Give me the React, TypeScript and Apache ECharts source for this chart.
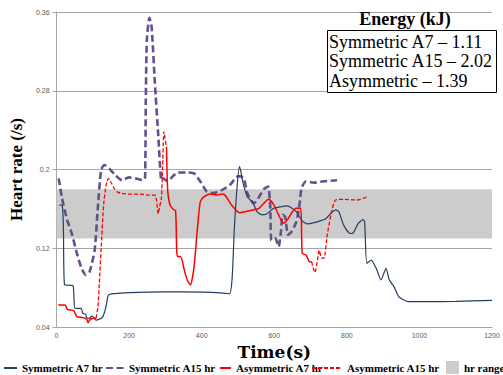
import React, { useEffect, useRef } from 'react';
import * as echarts from 'echarts';

const seriesNames = ['Symmetric A7 hr', 'Symmetric A15 hr', 'Asymmetric A7 hr', 'Asymmetric A15 hr', 'hr range'];
const xTicks = [0, 200, 400, 600, 800, 1000, 1200];
const yTicks = [0.04, 0.12, 0.2, 0.28, 0.36];
const hrRange = [0.13, 0.18];
const energyTitle = 'Energy (kJ)';
const energyLabels = ['Symmetric A7 – 1.11', 'Symmetric A15 – 2.02', 'Asymmetric – 1.39'];

const symA7 = [
  [8, 0.164], [16, 0.163], [19, 0.14], [22, 0.083], [45, 0.082], [48, 0.07], [51, 0.059], [68, 0.059],
  [72, 0.054], [80, 0.053], [84, 0.049], [92, 0.049], [96, 0.051], [102, 0.05], [109, 0.047], [118, 0.048],
  [127, 0.05], [136, 0.06], [143, 0.0725], [159, 0.074], [200, 0.075], [300, 0.0757], [400, 0.0755],
  [460, 0.0745], [477, 0.0737], [484, 0.09], [490, 0.14], [497, 0.18], [504, 0.203], [508, 0.198],
  [512, 0.19], [517, 0.182], [526, 0.172], [540, 0.167], [553, 0.157], [567, 0.154], [580, 0.155],
  [598, 0.1606], [616, 0.162], [634, 0.163], [648, 0.161], [661, 0.157], [679, 0.147], [692, 0.1447],
  [710, 0.146], [728, 0.148], [742, 0.15], [755, 0.155], [769, 0.159], [778, 0.157], [791, 0.1437],
  [809, 0.135], [818, 0.1357], [831, 0.145], [845, 0.149], [849, 0.147], [855, 0.1047], [867, 0.108],
  [881, 0.0996], [894, 0.0878], [908, 0.0996], [917, 0.0878], [930, 0.081], [943, 0.0708], [957, 0.0674],
  [970, 0.0657], [1000, 0.0657], [1100, 0.066], [1200, 0.067],
];

const symA15 = [
  [6, 0.191], [15, 0.171], [29, 0.149], [42, 0.135], [56, 0.115], [69, 0.0996], [81, 0.0928], [91, 0.096],
  [105, 0.118], [114, 0.162], [123, 0.1995], [132, 0.2046], [145, 0.201], [163, 0.194], [181, 0.189],
  [199, 0.192], [217, 0.191], [239, 0.189], [244, 0.192], [246, 0.271], [249, 0.332], [256, 0.354],
  [262, 0.345], [271, 0.288], [280, 0.237], [289, 0.189], [293, 0.191], [307, 0.188], [320, 0.193],
  [334, 0.197], [360, 0.197], [379, 0.196], [396, 0.188], [414, 0.1775], [432, 0.176], [455, 0.179],
  [477, 0.184], [500, 0.193], [508, 0.193], [517, 0.19], [526, 0.176], [544, 0.1655], [558, 0.172],
  [571, 0.18], [583, 0.1826], [589, 0.162], [592, 0.128], [603, 0.13], [612, 0.1216], [619, 0.139],
  [623, 0.154], [630, 0.152], [638, 0.1335], [648, 0.137], [661, 0.147], [670, 0.1655], [675, 0.181],
  [688, 0.188], [710, 0.1867], [737, 0.188], [773, 0.189],
];

const asymA7 = [
  [5, 0.0624], [24, 0.0624], [30, 0.058], [47, 0.0566], [56, 0.0505], [74, 0.0495], [83, 0.0478],
  [87, 0.0444], [91, 0.047], [100, 0.0488], [109, 0.049], [200, null],
  [303, 0.222], [305, 0.19], [307, 0.176], [312, 0.165], [320, 0.16], [328, 0.158], [331, 0.12],
  [333, 0.1115], [342, 0.1115], [352, 0.098], [360, 0.0878], [369, 0.0827], [379, 0.101], [387, 0.135],
  [396, 0.167], [405, 0.172], [423, 0.175], [441, 0.174], [459, 0.175], [468, 0.172], [482, 0.164],
  [504, 0.156], [531, 0.158], [558, 0.1606], [571, 0.1655], [584, 0.1697], [598, 0.1645], [612, 0.154],
  [625, 0.1455], [636, 0.149], [650, 0.157], [660, 0.1606], [673, 0.1606], [677, 0.115], [688, 0.113],
  [697, 0.1064], [703, 0.1064],
];

const asymA15 = [
  [109, 0.049], [114, 0.06], [118, 0.085], [123, 0.12], [130, 0.165], [137, 0.185], [143, 0.191],
  [150, 0.187], [160, 0.18], [168, 0.177], [177, 0.176], [200, 0.175], [230, 0.175], [255, 0.174],
  [271, 0.174], [276, 0.168], [280, 0.155], [284, 0.162], [289, 0.171], [292, 0.2], [296, 0.2385],
  [299, 0.232], [303, 0.222], [500, null],
  [703, 0.1064], [707, 0.1], [712, 0.0953], [719, 0.108], [724, 0.118], [730, 0.11], [737, 0.11],
  [746, 0.1335], [759, 0.159], [769, 0.169], [791, 0.1697], [827, 0.169], [854, 0.172],
];

const serif = 'Liberation Serif';
const legendText = { fontFamily: serif, fontWeight: 'bold', fontSize: 11, lineHeight: 12, color: '#000' };

export default function App() {
  const ref = useRef<HTMLDivElement>(null);
  useEffect(() => {
    const chart = echarts.init(ref.current!, null, { renderer: 'svg' });
    const yInterval = Math.round((yTicks[1] - yTicks[0]) * 1000) / 1000;
    const xInterval = xTicks[1] - xTicks[0];
    const mkLegend = (name: any, left: number, itemWidth: number, itemHeight: number, top: number, hideSymbol: boolean) => ({
      data: [name],
      left,
      top,
      padding: 0,
      itemWidth,
      itemHeight,
      selectedMode: false,
      width: 300,
      textStyle: legendText,
      ...(hideSymbol ? { itemStyle: { opacity: 0 } } : {}),
    });
    chart.setOption({
      animation: false,
      backgroundColor: '#fff',
      grid: { left: 46, right: 11, top: 12, bottom: 48 },
      legend: [
        mkLegend(seriesNames[0], 3, 13, 10, 362, true),
        mkLegend(seriesNames[1], 105, 18, 10, 362, true),
        mkLegend(seriesNames[2], 219, 11, 10, 362, true),
        mkLegend(seriesNames[3], 311, 30, 10, 362, true),
        mkLegend({ name: seriesNames[4], icon: 'rect', itemStyle: { color: '#cccccc' } }, 446, 13, 13, 361, false),
      ],
      xAxis: {
        type: 'value',
        min: xTicks[0],
        max: xTicks[xTicks.length - 1],
        interval: xInterval,
        name: 'Time(s)',
        nameLocation: 'middle',
        nameGap: 12,
        nameTextStyle: { fontFamily: 'DejaVu Serif', fontWeight: 'bold', fontSize: 17, lineHeight: 17, color: '#000' },
        axisLine: { show: true, lineStyle: { color: '#a6a6a6', width: 1 } },
        axisTick: { show: false },
        splitLine: { show: false },
        axisLabel: { fontSize: 7, color: '#595959', margin: 5, fontFamily: 'Liberation Sans', formatter: (v: number) => String(v) },
      },
      yAxis: {
        type: 'value',
        min: yTicks[0],
        max: yTicks[yTicks.length - 1],
        interval: yInterval,
        name: 'Heart rate (/s)',
        nameLocation: 'middle',
        nameGap: 29,
        nameRotate: 90,
        nameTextStyle: { fontFamily: serif, fontWeight: 'bold', fontSize: 17, color: '#000' },
        axisLine: { show: true, lineStyle: { color: '#a6a6a6', width: 1 } },
        axisTick: { show: true, length: 4, lineStyle: { color: '#a6a6a6' } },
        splitLine: { show: true, lineStyle: { color: '#a6a6a6', width: 1 } },
        axisLabel: { fontSize: 7, color: '#595959', margin: 7, fontFamily: 'Liberation Sans' },
      },
      series: [
        {
          name: seriesNames[4],
          type: 'line',
          z: 1,
          silent: true,
          symbol: 'none',
          data: [[xTicks[0], hrRange[0]], [xTicks[xTicks.length - 1], hrRange[0]]],
          itemStyle: { color: '#cccccc' },
          lineStyle: { width: 0, color: '#cccccc' },
          markArea: {
            silent: true,
            itemStyle: { color: '#cccccc' },
            label: { show: false },
            data: [[{ yAxis: hrRange[0] }, { yAxis: hrRange[1] }]],
          },
        },
        {
          name: seriesNames[0], type: 'line', symbol: 'none', smooth: 0.2, z: 3, data: symA7,
          itemStyle: { color: '#243f60' }, lineStyle: { color: '#243f60', width: 1.2 },
        },
        {
          name: seriesNames[1], type: 'line', symbol: 'none', smooth: 0.2, z: 2, data: symA15,
          itemStyle: { color: '#64508c' }, lineStyle: { color: '#64508c', width: 2.6, type: [7, 3.5] },
        },
        {
          name: seriesNames[2], type: 'line', symbol: 'none', smooth: 0.2, z: 4, data: asymA7,
          itemStyle: { color: '#ff0000' }, lineStyle: { color: '#ff0000', width: 1.5 },
        },
        {
          name: seriesNames[3], type: 'line', symbol: 'none', smooth: 0.2, z: 4, data: asymA15,
          itemStyle: { color: '#ff0000' }, lineStyle: { color: '#ff0000', width: 1.3, type: [4, 2] },
        },
      ],
      graphic: [
        {
          type: 'group',
          z: 100,
          children: [
            {
              type: 'text', x: 405, y: 19, z: 100,
              style: { text: energyTitle, fontFamily: serif, fontWeight: 'bold', fontSize: 18, fill: '#000', textAlign: 'center', textVerticalAlign: 'middle' },
            },
            {
              type: 'rect', z: 100,
              shape: { x: 327.5, y: 30.5, width: 169, height: 62 },
              style: { fill: '#fff', stroke: '#000', lineWidth: 1 },
            },
            ...energyLabels.map((t, i) => ({
              type: 'text', x: 329, y: 41.5 + i * 19.5, z: 101,
              style: { text: t, fontFamily: serif, fontSize: 18, fill: '#000', textAlign: 'left', textVerticalAlign: 'middle' },
            })),
          ],
        },
      ],
    });
    return () => chart.dispose();
  }, []);
  return <div ref={ref} style={{ position: 'fixed', left: 0, top: 0, width: 503, height: 375 }} />;
}
